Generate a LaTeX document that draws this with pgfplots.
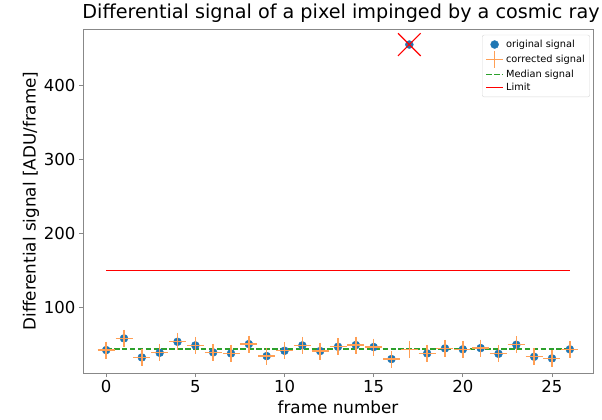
\documentclass[border=0pt]{standalone}
\usepackage{pgfplots}
\pgfplotsset{compat=1.18}
\usepackage{fontspec}
\setmainfont{DejaVu Sans}
\definecolor{mblue}{HTML}{1F77B4}
\definecolor{morange}{HTML}{FF9F55}
\definecolor{mgreen}{HTML}{2CA02C}
\definecolor{mred}{HTML}{FF0000}
\definecolor{spine}{HTML}{888888}
\begin{document}
\begin{tikzpicture}[x=1pt,y=1pt]
\begin{axis}[
  at={(0,0)}, anchor=south west,
  scale only axis, width=510pt, height=344pt,
  xmin=-1.3, xmax=27.3, ymin=12, ymax=476,
  xtick={0,5,10,15,20,25}, ytick={100,200,300,400},
  tick align=outside, tick pos=left, major tick length=4pt,
  axis line style={draw=spine, line width=0.8pt},
  tick style={draw=spine, line width=0.8pt},
  /pgf/number format/assume math mode=true,
  tick label style={font=\fontsize{16.5}{19}\selectfont},
  label style={font=\fontsize{16.8}{19}\selectfont},
  xlabel={frame number},
  ylabel={Differential signal [ADU/frame]},
  xlabel style={yshift=-1pt},
  ylabel style={yshift=-2pt},
  title={Differential signal of a pixel impinged by a cosmic ray},
  title style={font=\fontsize{19.2}{22}\selectfont, yshift=-3pt, xshift=3pt},
  legend cell align=left,
  legend style={at={(0.994,0.983)}, anchor=north east, font=\fontsize{9.8}{11.5}\selectfont,
    draw=gray!30, rounded corners=2pt, row sep=0pt, inner sep=3pt},
]
\addplot[draw=mblue, fill=mblue, only marks, mark=*, mark size=4pt, mark options={draw=mblue, fill=mblue}] coordinates {
(0,42.9) (1,58.7) (2,33) (3,39.3) (4,54.1) (5,49.2) (6,39.8) (7,38.4) (8,51) (9,34.8)
(10,42) (11,49.2) (12,41.6) (13,47.4) (14,49.7) (15,47) (16,30.8) (17,455) (18,38.4) (19,45.2)
(20,43.9) (21,45.6) (22,37.9) (23,50.1) (24,33.9) (25,31.7) (26,43.9)};
\addlegendentry{original signal}
\addplot[draw=morange, only marks, mark=+, mark size=8.5pt, mark options={draw=morange, line width=1.4pt}] coordinates {
(0,42.9) (1,58.7) (2,33) (3,39.3) (4,54.1) (5,49.2) (6,39.8) (7,38.4) (8,51) (9,34.8)
(10,42) (11,49.2) (12,41.6) (13,47.4) (14,49.7) (15,47) (16,30.8) (17,44) (18,38.4) (19,45.2)
(20,43.9) (21,45.6) (22,37.9) (23,50.1) (24,33.9) (25,31.7) (26,43.9)};
\addlegendentry{corrected signal}
\addplot[draw=mgreen, line width=1.8pt, dash pattern=on 5.5pt off 2.4pt] coordinates {(0,44) (26,44)};
\addlegendentry{Median signal}
\addplot[draw=mred, line width=1.6pt] coordinates {(0,150) (26,150)};
\addlegendentry{Limit}
\addplot[draw=mred, only marks, mark=x, mark size=16pt, mark options={draw=mred, line width=1.1pt}, forget plot] coordinates {(17,455)};
\end{axis}
\pgfresetboundingbox
\path (-83pt,-47pt) rectangle (519pt,373pt);
\end{tikzpicture}
\end{document}
